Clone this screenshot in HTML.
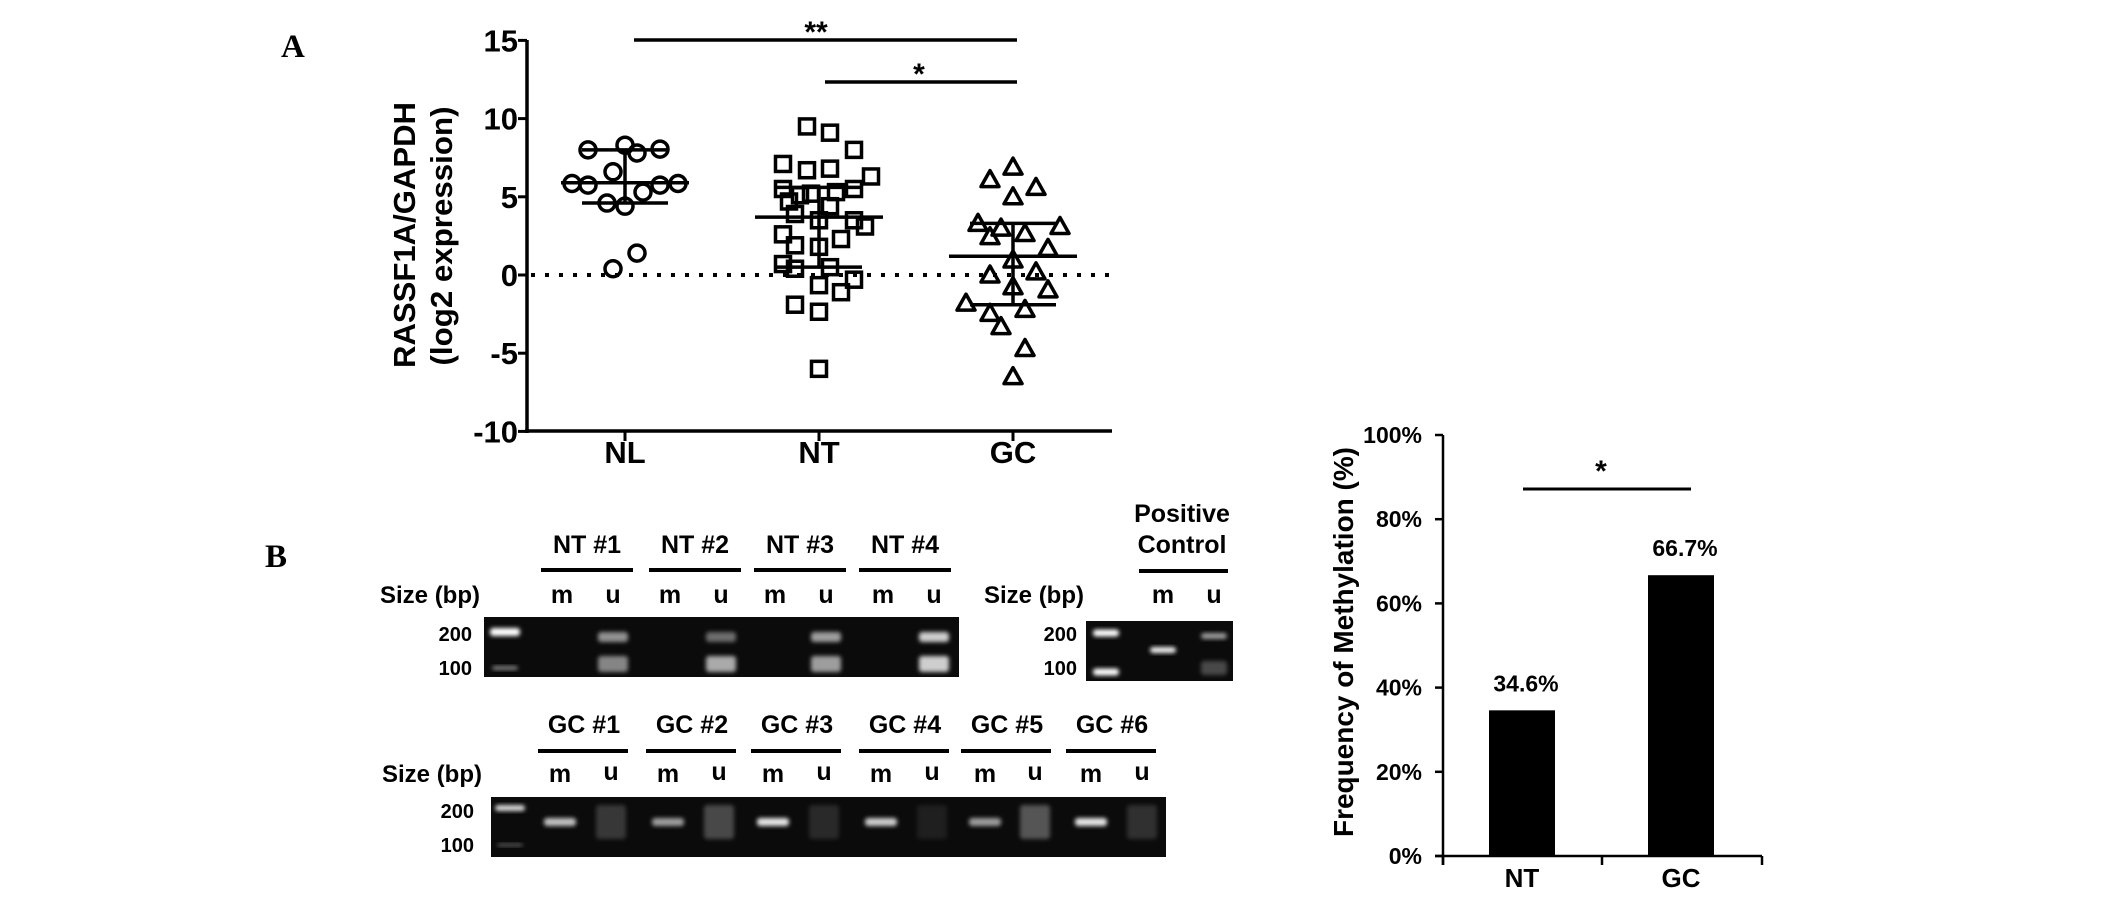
<!DOCTYPE html>
<html><head><meta charset="utf-8"><style>
html,body{margin:0;padding:0;background:#fff;}
svg{display:block;font-family:"Liberation Sans",Arial,sans-serif;}
</style></head><body>
<svg id="fig" width="2126" height="906" viewBox="0 0 2126 906">
<defs>
<filter id="blur" x="-50%" y="-50%" width="200%" height="200%"><feGaussianBlur stdDeviation="2.2"/></filter>
</defs>
<text x="281" y="57" font-family="Liberation Serif,serif" font-weight="bold" font-size="33">A</text>
<text x="265" y="567" font-family="Liberation Serif,serif" font-weight="bold" font-size="33">B</text>
<g id="chartA"></g>
<g id="gels"></g>
<g id="chartB"></g>
</svg>
<script>
// ---------- Chart A data ----------
const aCategories = ["NL","NT","GC"];
const aYTicks = [15,10,5,0,-5,-10];
const nlValues = [8.0,8.3,7.8,8.05,6.6,5.85,5.75,5.75,5.85,5.3,4.6,4.4,1.4,0.4];
const nlJitter = [-37,0,12,35,-12,-53,-37,35,53,18,-18,0,12,-12];
const ntValues = [9.5,9.1,8.0,6.3,6.7,6.8,7.1,5.5,5.3,5.1,5.5,4.7,4.4,3.9,3.5,3.5,3.1,2.3,2.6,1.9,1.8,0.4,0.5,0.7,-0.3,-0.65,-1.1,-1.9,-2.35,-6.0,5.2];
const ntJitter = [-12,11,35,52,-12,11,-36,35,17,-19,-36,-30,11,-24,0,35,46,22,-36,-24,0,-24,11,-36,35,0,22,-24,0,0,-8];
const gcValues = [6.9,6.1,5.6,5.0,3.3,3.0,3.1,2.45,2.65,1.7,0.96,0.0,0.2,-0.75,-0.95,-1.8,-2.2,-2.45,-3.3,-4.7,-6.5];
const gcJitter = [0,-23,23,0,-35,-12,47,-23,12,35,0,-23,23,0,35,-47,12,-23,-12,12,0];
const aMeans = [5.9,3.7,1.2];
const aUpper = [8.0,5.6,3.3];
const aLower = [4.6,0.5,-1.9];

// ---------- Chart B data ----------
const bCategories = ["NT","GC"];
const bValues = [34.6,66.7];
const bLabels = ["34.6%","66.7%"];
const bYTicks = [0,20,40,60,80,100];

const NS="http://www.w3.org/2000/svg";
function mk(parent,tag,attrs,text){const e=document.createElementNS(NS,tag);for(const k in attrs)e.setAttribute(k,attrs[k]);if(text!==undefined)e.textContent=text;parent.appendChild(e);return e;}

// ---------- Chart A ----------
(function(){
const g=document.getElementById('chartA');
const axX=527, xEnd=1112, yTop=40, yBot=431;
const y=v=>275-(v)*(yBot-yTop)/25;
const xc=i=>625+i*194;
let e;
e=mk(g,'line',{x1:axX,y1:yTop,x2:axX,y2:yBot+2,stroke:'#000','stroke-width':3.5});


e=mk(g,'line',{x1:axX-2,y1:yBot,x2:xEnd,y2:yBot,stroke:'#000','stroke-width':3.5});


aYTicks.forEach(t=>{
  e=mk(g,'line',{x1:axX-9,y1:y(t),x2:axX,y2:y(t),stroke:'#000','stroke-width':3});
  
  
  e=mk(g,'text',{x:518,y:y(t)+11,'text-anchor':'end','font-size':31,'font-weight':'bold'},String(t));
  
  
});
aCategories.forEach((c,i)=>{
  e=mk(g,'line',{x1:xc(i),y1:yBot,x2:xc(i),y2:yBot+10,stroke:'#000','stroke-width':3});
  
  
  e=mk(g,'text',{x:xc(i),y:463,'text-anchor':'middle','font-size':31,'font-weight':'bold'},c);
  
  
});
e=mk(g,'text',{transform:'translate(415,235) rotate(-90)','text-anchor':'middle','font-size':31,'font-weight':'bold',textLength:266,lengthAdjust:'spacingAndGlyphs'},'RASSF1A/GAPDH');


e=mk(g,'text',{transform:'translate(452,236) rotate(-90)','text-anchor':'middle','font-size':31,'font-weight':'bold',textLength:259,lengthAdjust:'spacingAndGlyphs'},'(log2 expression)');


e=mk(g,'line',{x1:axX+4,y1:y(0),x2:xEnd,y2:y(0),stroke:'#000','stroke-width':4,'stroke-dasharray':'4 10'});


// points
const sets=[[nlValues,nlJitter,'circle'],[ntValues,ntJitter,'square'],[gcValues,gcJitter,'triangle']];
sets.forEach(([vals,jit,shape],i)=>{
  vals.forEach((v,k)=>{
    const px=xc(i)+jit[k], py=y(v);
    let m;
    if(shape==='circle') m=mk(g,'circle',{cx:px,cy:py,r:8,fill:'none',stroke:'#000','stroke-width':3.5});
    else if(shape==='square') m=mk(g,'rect',{x:px-7.5,y:py-7.5,width:15,height:15,fill:'none',stroke:'#000','stroke-width':3.5});
    else m=mk(g,'polygon',{points:`${px},${py-9} ${px+9},${py+7} ${px-9},${py+7}`,fill:'none',stroke:'#000','stroke-width':3.5,'stroke-linejoin':'round'});
    
    
  });
  e=mk(g,'line',{x1:xc(i)-64,y1:y(aMeans[i]),x2:xc(i)+64,y2:y(aMeans[i]),stroke:'#000','stroke-width':3.5});
  
  
  e=mk(g,'line',{x1:xc(i)-43,y1:y(aUpper[i]),x2:xc(i)+43,y2:y(aUpper[i]),stroke:'#000','stroke-width':3.5});
  
  
  e=mk(g,'line',{x1:xc(i)-43,y1:y(aLower[i]),x2:xc(i)+43,y2:y(aLower[i]),stroke:'#000','stroke-width':3.5});
  
  
  e=mk(g,'line',{x1:xc(i),y1:y(aUpper[i]),x2:xc(i),y2:y(aLower[i]),stroke:'#000','stroke-width':3.5});
  
  
});
e=mk(g,'line',{x1:634,y1:40,x2:1017,y2:40,stroke:'#000','stroke-width':3.5});


e=mk(g,'text',{x:816,y:42,'text-anchor':'middle','font-size':30,'font-weight':'bold'},'**');


e=mk(g,'line',{x1:825,y1:82,x2:1017,y2:82,stroke:'#000','stroke-width':3.5});


e=mk(g,'text',{x:919,y:84,'text-anchor':'middle','font-size':30,'font-weight':'bold'},'*');


})();

// ---------- Gels ----------
(function(){
const g=document.getElementById('gels');
let e;
function label(x,y,t,size,name,anchor){
  e=mk(g,'text',{x:x,y:y,'text-anchor':anchor||'middle','font-size':size,'font-weight':'bold'},t);
  
  
}
function bar(x1,x2,y,name){
  e=mk(g,'line',{x1:x1,y1:y,x2:x2,y2:y,stroke:'#000','stroke-width':4});
  
  
}
function gel(x,y,w,h,name){
  e=mk(g,'rect',{x:x,y:y,width:w,height:h,fill:'#0b0b0b'});
  
  
}
function band(cx,cy,w,h,op,name){
  e=mk(g,'rect',{x:cx-w/2,y:cy-h/2,width:w,height:h,fill:'#fff',opacity:op,filter:'url(#blur)',rx:3});
  
  
}
// row 1
const nt=['NT #1','NT #2','NT #3','NT #4'], ntC=[587,695,800,905];
nt.forEach((t,i)=>{label(ntC[i],553,t,25,'sample-label');bar(ntC[i]-46,ntC[i]+46,570,'sample-bracket');});
label(430,603,'Size (bp)',24,'size-label');
[562,670,775,883].forEach(x=>label(x,603,'m',25,'lane-label-m'));
[613,721,826,934].forEach(x=>label(x,603,'u',25,'lane-label-u'));
label(472,641,'200',20,'marker-200','end');label(472,675,'100',20,'marker-100','end');
gel(484,617,475,60,'gel-nt');
band(505,632,30,8,1,'ladder-band');band(505,668,26,4,0.5,'ladder-band');
[613,721,826,934].forEach((x,i)=>{band(x,637,30,10,[0.55,0.4,0.6,0.8][i]);band(x,664,30,16,[0.5,0.65,0.6,0.8][i]);});
// positive control
label(1182,522,'Positive',25,'positive-control-label');
label(1182,553,'Control',25,'positive-control-label');
bar(1139,1228,571,'sample-bracket');
label(1034,603,'Size (bp)',24,'size-label');
label(1163,603,'m',25,'lane-label-m');label(1214,603,'u',25,'lane-label-u');
label(1077,641,'200',20,'marker-200','end');label(1077,675,'100',20,'marker-100','end');
gel(1086,621,147,60,'gel-positive-control');
band(1106,633,26,7,1,'ladder-band');band(1106,672,26,7,1,'ladder-band');
band(1163,650,26,6,0.95);band(1214,636,26,6,0.6);band(1214,668,26,14,0.25);
// row 2
const gc=['GC #1','GC #2','GC #3','GC #4','GC #5','GC #6'], gcC=[584,692,797,905,1007,1112];
gc.forEach((t,i)=>{label(gcC[i],733,t,25,'sample-label');bar(gcC[i]-46,gcC[i]+44,751,'sample-bracket');});
label(432,782,'Size (bp)',24,'size-label');
[560,668,773,881,985,1091].forEach(x=>label(x,782,'m',25,'lane-label-m'));
[611,719,824,932,1035,1142].forEach(x=>label(x,780,'u',25,'lane-label-u'));
label(474,818,'200',20,'marker-200','end');label(474,852,'100',20,'marker-100','end');
gel(491,797,675,60,'gel-gc');
band(510,808,30,6,0.85,'ladder-band');band(510,845,26,3,0.35,'ladder-band');
[560,668,773,881,985,1091].forEach((x,i)=>band(x,822,32,8,[0.75,0.6,0.9,0.8,0.6,0.9][i]));
[611,719,824,932,1035,1142].forEach((x,i)=>band(x,822,30,34,[0.18,0.25,0.12,0.08,0.3,0.15][i]));
})();

// ---------- Chart B ----------
(function(){
const g=document.getElementById('chartB');
const axX=1443, xEnd=1762, y0=856, y100=435;
const y=v=>y0-v*(y0-y100)/100;
const xc=[1522,1681];
let e;
e=mk(g,'line',{x1:axX,y1:y100,x2:axX,y2:y0+9,stroke:'#000','stroke-width':2.5});


e=mk(g,'line',{x1:1435,y1:y0,x2:xEnd,y2:y0,stroke:'#000','stroke-width':2.5});


[axX,1602,xEnd].forEach(x=>{
  e=mk(g,'line',{x1:x,y1:y0,x2:x,y2:y0+9,stroke:'#000','stroke-width':2.5});
  
  
});
bYTicks.forEach(t=>{
  e=mk(g,'line',{x1:1435,y1:y(t),x2:axX,y2:y(t),stroke:'#000','stroke-width':2.5});
  
  
  e=mk(g,'text',{x:1422,y:y(t)+8,'text-anchor':'end','font-size':23,'font-weight':'bold'},t+'%');
  
  
});
bValues.forEach((v,i)=>{
  e=mk(g,'rect',{x:xc[i]-33,y:y(v),width:66,height:y0-y(v),fill:'#000'});
  
  
  e=mk(g,'text',{x:xc[i]+4,y:y(v)-19,'text-anchor':'middle','font-size':23,'font-weight':'bold'},bLabels[i]);
  
  
  e=mk(g,'text',{x:xc[i],y:887,'text-anchor':'middle','font-size':26,'font-weight':'bold'},bCategories[i]);
  
  
});
e=mk(g,'text',{transform:'translate(1353,642) rotate(-90)','text-anchor':'middle','font-size':28,'font-weight':'bold',textLength:390,lengthAdjust:'spacingAndGlyphs'},'Frequency of Methylation (%)');


e=mk(g,'line',{x1:1523,y1:489,x2:1691,y2:489,stroke:'#000','stroke-width':3});


e=mk(g,'text',{x:1601,y:481,'text-anchor':'middle','font-size':30,'font-weight':'bold'},'*');


})();
</script>
</body></html>
